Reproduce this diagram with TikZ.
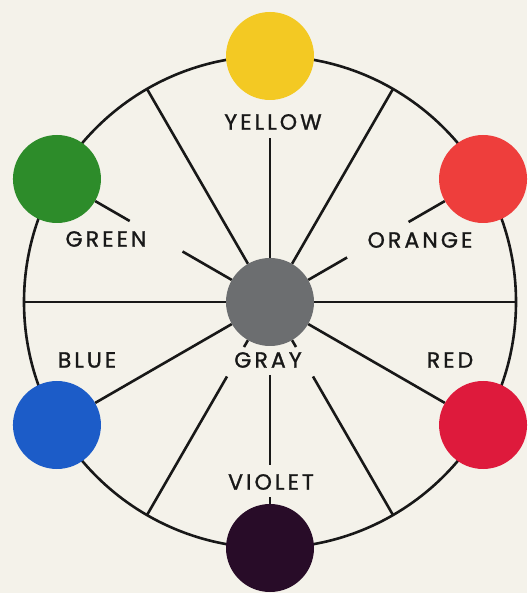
\documentclass[tikz,border=0pt]{standalone}
\usepackage{fontspec}
\setmainfont[LetterSpace=14, FakeBold=1.2]{Poppins}
\usetikzlibrary{calc}

\definecolor{paper}{RGB}{244,242,234}
\definecolor{ink}{RGB}{24,24,24}
\definecolor{cyellow}{RGB}{243,201,35}
\definecolor{cgreen}{RGB}{45,140,42}
\definecolor{corange}{RGB}{238,62,60}
\definecolor{cgray}{RGB}{108,110,112}
\definecolor{cblue}{RGB}{28,92,200}
\definecolor{cred}{RGB}{222,26,60}
\definecolor{cviolet}{RGB}{40,12,40}

\begin{document}
\begin{tikzpicture}[
  x=1pt, y=1pt,
  dot/.style={circle, inner sep=0pt, minimum size=88pt},
  lbl/.style={font=\fontsize{22}{22}\selectfont, text=ink},
  spoke/.style={draw=ink, line width=2.6pt}
]
  \fill[paper] (-270,-291) rectangle (257,302);
  \draw[spoke] (0,0) circle (246);

  \node[dot, fill=cgray] (gray) at (0,0) {};
  \node[dot, fill=cyellow] (yellow) at (90:246) {};
  \node[dot, fill=corange] (orange) at (30:246) {};
  \node[dot, fill=cgreen] (green) at (150:246) {};
  \node[dot, fill=cblue] (blue) at (210:246) {};
  \node[dot, fill=cred] (red) at (330:246) {};
  \node[dot, fill=cviolet] (violet) at (270:246) {};

  \node[lbl] (lyellow) at (3,180) {YELLOW};
  \node[lbl] (lgreen) at (-164,63) {GREEN};
  \node[lbl] (lorange) at (150,62) {ORANGE};
  \node[lbl] (lblue) at (-183,-58) {BLUE};
  \node[lbl] (lgray) at (-2,-58) {GRAY};
  \node[lbl] (lred) at (180,-58) {RED};
  \node[lbl] (lviolet) at (1,-180) {VIOLET};

  % spokes out to the rim
  \foreach \a in {0,60,120,180} {
    \coordinate (rim\a) at (\a:246);
    \draw[spoke] (gray) -- (rim\a);
  }
  \coordinate (rim240) at (240:246);
  \coordinate (rim300) at (300:246);
  \coordinate (in240) at (240:52);
  \coordinate (out240) at (240:86);
  \coordinate (in300) at (300:52);
  \coordinate (out300) at (300:86);
  \draw[spoke] (gray) -- (in240);
  \draw[spoke] (out240) -- (rim240);
  \draw[spoke] (gray) -- (in300);
  \draw[spoke] (out300) -- (rim300);

  % spokes out to the colours
  \coordinate (up90) at (90:164);
  \draw[spoke] (gray) -- (up90);
  \coordinate (in270) at (270:73);
  \coordinate (mid270) at (270:163);
  \coordinate (out270) at (270:195);
  \draw[spoke] (in270) -- (mid270);
  \draw[spoke] (out270) -- (violet);
  \coordinate (in150) at (150:101);
  \coordinate (out150) at (150:162);
  \draw[spoke] (gray) -- (in150);
  \draw[spoke] (out150) -- (green);
  \coordinate (in30) at (30:89);
  \coordinate (out30) at (30:160);
  \draw[spoke] (gray) -- (in30);
  \draw[spoke] (out30) -- (orange);
  \draw[spoke] (gray) -- (blue);
  \draw[spoke] (gray) -- (red);
\end{tikzpicture}
\end{document}
